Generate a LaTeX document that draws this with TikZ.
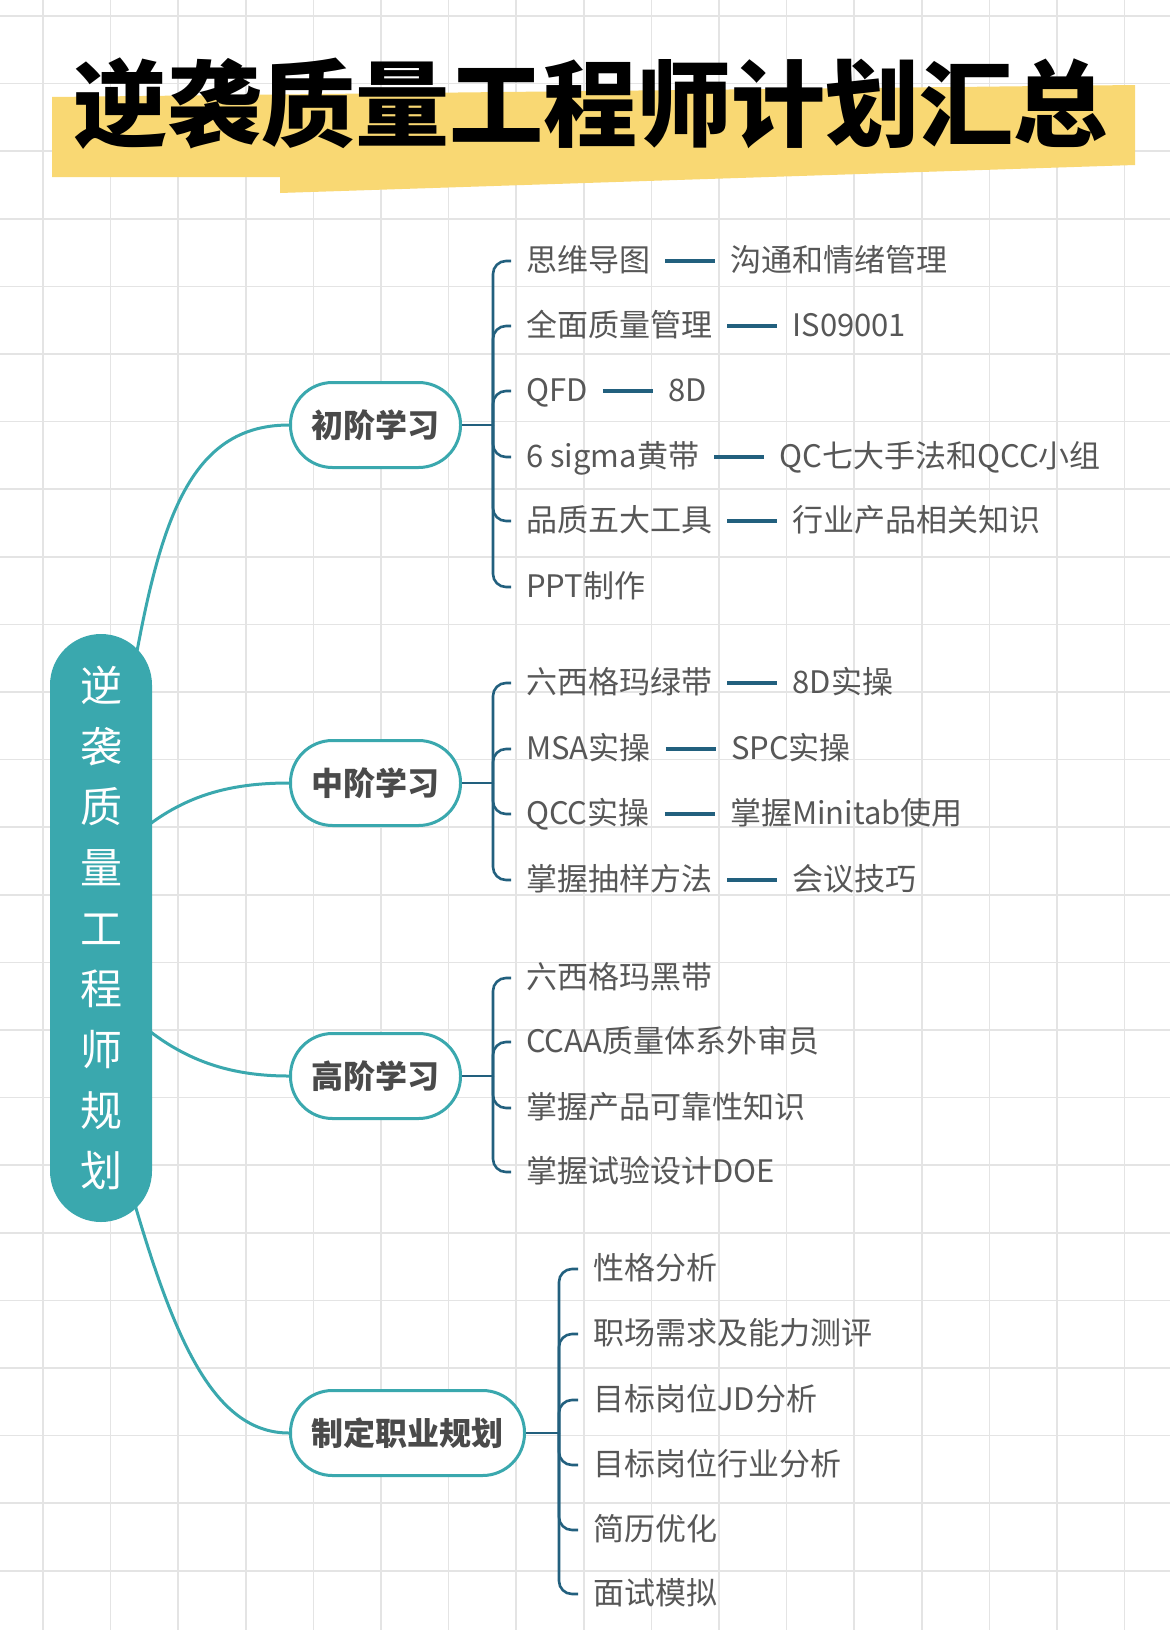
\documentclass[tikz,border=0pt]{standalone}
\usepackage{fontspec}
\setmainfont{Noto Sans CJK SC}
\usetikzlibrary{positioning,backgrounds}

\definecolor{mapteal}{HTML}{3AA8AE}
\definecolor{mapblue}{HTML}{22607E}
\definecolor{marker}{HTML}{F9D873}
\definecolor{paper}{HTML}{E4E4E4}
\definecolor{ink}{HTML}{575757}

\tikzset{
  root/.style={fill=mapteal, rounded corners=51pt, minimum width=102pt,
    minimum height=588pt, inner sep=0pt, text=white, align=center,
    font=\fontsize{42}{60.7}\selectfont},
  stage/.style={draw=mapteal, line width=3pt, fill=white, rounded corners=42pt,
    minimum height=85pt, inner xsep=21pt, anchor=west, text=ink!85!black,
    font=\fontsize{32}{32}\selectfont\bfseries},
  leaf/.style={anchor=west, inner xsep=15pt, inner ysep=3pt, text height=26pt,
    text depth=6pt, text=ink, font=\fontsize{31}{31}\selectfont},
  twig/.style={draw=mapteal, line width=3pt},
  brace/.style={draw=mapblue, line width=2.6pt, rounded corners=13pt},
  pairline/.style={draw=mapblue, line width=3.4pt},
}

\begin{document}
\begin{tikzpicture}[x=1pt,y=-1pt]
  \useasboundingbox (0,0) rectangle (1170,1630);

  % grid paper
  \begin{scope}[on background layer]
    \fill[white] (0,0) rectangle (1170,1630);
    \foreach \gx in {0,...,16}
      \draw[paper, line width=1.6pt] ({43+67.6*\gx},0) -- ++(0,1630);
    \foreach \gy in {0,...,23}
      \draw[paper, line width=1.6pt] (0,{16+67.6*\gy}) -- ++(1170,0);
  \end{scope}

  % title
  \fill[marker] (52,97) -- (1135,85) -- (1135,165) -- (280,193) -- (280,177) -- (52,177) -- cycle;
  \node (title) at (590,104) {\fontsize{94}{94}\selectfont\bfseries 逆袭质量工程师计划汇总};

  \node[root] (root) at (101,928) {逆\\袭\\质\\量\\工\\程\\师\\规\\划};

  \node[stage] (b1) at (289,425) {初阶学习};
  \node[stage] (b2) at (289,783) {中阶学习};
  \node[stage] (b3) at (289,1076) {高阶学习};
  \node[stage] (b4) at (289,1433) {制定职业规划};

  \begin{scope}[on background layer]
    \draw[twig] ([shift={(24,-208)}]root.center) .. controls +(30,-180) and +(-109,0) .. (b1.west);
    \draw[twig] ([shift={(19,-78)}]root.center) .. controls +(50,-50) and +(-69,0) .. (b2.west);
    \draw[twig] ([shift={(19,77)}]root.center) .. controls +(50,50) and +(-69,0) .. (b3.west);
    \draw[twig] ([shift={(24,242)}]root.center) .. controls +(45,160) and +(-79,0) .. (b4.west);
  \end{scope}

  % 初阶
  \node[leaf] (s1-1) at (511,261) {思维导图};
  \node[leaf] (c1-1) [right=50pt of s1-1] {沟通和情绪管理};
  \node[leaf] (s1-2) at (511,326) {全面质量管理};
  \node[leaf] (c1-2) [right=50pt of s1-2] {IS09001};
  \node[leaf] (s1-3) at (511,391) {QFD};
  \node[leaf] (c1-3) [right=50pt of s1-3] {8D};
  \node[leaf] (s1-4) at (511,457) {6 sigma黄带};
  \node[leaf] (c1-4) [right=50pt of s1-4] {QC七大手法和QCC小组};
  \node[leaf] (s1-5) at (511,521) {品质五大工具};
  \node[leaf] (c1-5) [right=50pt of s1-5] {行业产品相关知识};
  \node[leaf] (s1-6) at (511,587) {PPT制作};

  % 中阶
  \node[leaf] (s2-1) at (511,683) {六西格玛绿带};
  \node[leaf] (c2-1) [right=50pt of s2-1] {8D实操};
  \node[leaf] (s2-2) at (511,749) {MSA实操};
  \node[leaf] (c2-2) [right=50pt of s2-2] {SPC实操};
  \node[leaf] (s2-3) at (511,814) {QCC实操};
  \node[leaf] (c2-3) [right=50pt of s2-3] {掌握Minitab使用};
  \node[leaf] (s2-4) at (511,880) {掌握抽样方法};
  \node[leaf] (c2-4) [right=50pt of s2-4] {会议技巧};

  % 高阶
  \node[leaf] (s3-1) at (511,978) {六西格玛黑带};
  \node[leaf] (s3-2) at (511,1042) {CCAA质量体系外审员};
  \node[leaf] (s3-3) at (511,1108) {掌握产品可靠性知识};
  \node[leaf] (s3-4) at (511,1172) {掌握试验设计DOE};

  % 职业规划
  \node[leaf] (s4-1) at (578,1269) {性格分析};
  \node[leaf] (s4-2) at (578,1334) {职场需求及能力测评};
  \node[leaf] (s4-3) at (578,1400) {目标岗位JD分析};
  \node[leaf] (s4-4) at (578,1465) {目标岗位行业分析};
  \node[leaf] (s4-5) at (578,1530) {简历优化};
  \node[leaf] (s4-6) at (578,1594) {面试模拟};

  \coordinate (j1) at ([xshift=31pt]b1.east);
  \coordinate (j2) at ([xshift=31pt]b2.east);
  \coordinate (j3) at ([xshift=31pt]b3.east);
  \coordinate (j4) at ([xshift=33pt]b4.east);
  \draw[brace] (b1.east) -- (j1);
  \draw[brace] (b2.east) -- (j2);
  \draw[brace] (b3.east) -- (j3);
  \draw[brace] (b4.east) -- (j4);
  \foreach \i in {1,...,6} \draw[brace] (j1) |- (s1-\i.west);
  \foreach \i in {1,...,4} \draw[brace] (j2) |- (s2-\i.west);
  \foreach \i in {1,...,4} \draw[brace] (j3) |- (s3-\i.west);
  \foreach \i in {1,...,6} \draw[brace] (j4) |- (s4-\i.west);

  \foreach \i in {1,...,5} \draw[pairline] (s1-\i) -- (c1-\i);
  \foreach \i in {1,...,4} \draw[pairline] (s2-\i) -- (c2-\i);
\end{tikzpicture}
\end{document}
